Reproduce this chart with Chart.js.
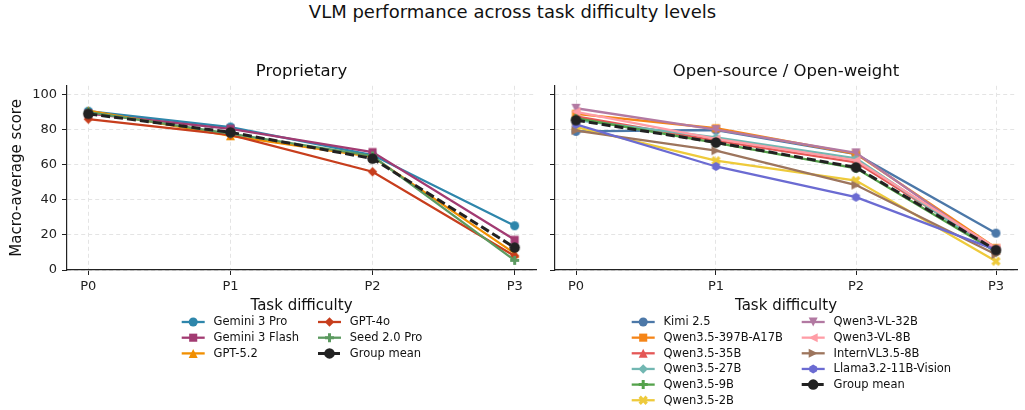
<!DOCTYPE html>
<html>
<head>
<meta charset="utf-8">
<script src="https://cdn.jsdelivr.net/npm/chart.js@4.4.1/dist/chart.umd.min.js"></script>
<style>
  html, body { margin: 0; padding: 0; background: #fff; }
  body { width: 1025px; height: 410px; position: relative; overflow: hidden; font-family: "DejaVu Sans", sans-serif; }
  #suptitle { position: absolute; left: 0; top: 1px; width: 1025px; text-align: center; font-size: 18px; color: #111; }
  #left { position: absolute; left: 0; top: 0; }
  #right { position: absolute; left: 545px; top: 0; }
</style>
</head>
<body>
<div id="suptitle">VLM performance across task difficulty levels</div>
<canvas id="left" width="545" height="410"></canvas>
<canvas id="right" width="480" height="410"></canvas>
<script>
// data
var difficulty = ["P0", "P1", "P2", "P3"];
var yTicks = [0, 20, 40, 60, 80, 100];

// proprietary
var propNames = ["Gemini 3 Pro", "Gemini 3 Flash", "GPT-5.2", "GPT-4o", "Seed 2.0 Pro"];
var propColors = ["#2E86AB", "#A23B72", "#F18F01", "#C73E1D", "#5C9A60"];
var propMarkers = ["o", "s", "^", "D", "P"];
var gemini3Pro = [90.5, 81.5, 65.5, 25.2];
var gemini3Flash = [89.2, 80.5, 67.2, 17.2];
var gpt52 = [90.8, 76.5, 64.5, 9.5];
var gpt4o = [86, 77, 56, 8];
var seed20Pro = [90, 77.8, 65, 5.5];
var propMean = [89, 78.5, 63.5, 12.8];

// open-source / open-weight
var openNames = ["Kimi 2.5", "Qwen3.5-397B-A17B", "Qwen3.5-35B", "Qwen3.5-27B", "Qwen3.5-9B", "Qwen3.5-2B",
    "Qwen3-VL-32B", "Qwen3-VL-8B", "InternVL3.5-8B", "Llama3.2-11B-Vision"];
var openColors = ["#4C78A8", "#F58518", "#E45756", "#72B7B2", "#54A24B", "#EECA3B",
    "#B279A2", "#FF9DA6", "#9D755D", "#6B6BD2"];
var openMarkers = ["o", "s", "^", "D", "P", "X", "v", "<", ">", "h"];
var kimi25 = [79, 79.8, 66, 21];
var qwen397b = [89, 80.8, 66.2, 12.5];
var qwen35b = [87.5, 73.8, 61.4, 11.5];
var qwen27b = [85.5, 75.6, 63.6, 10];
var qwen9b = [86.5, 72.5, 58, 10.5];
var qwen2b = [81.5, 62.3, 51, 5];
var qwenVl32b = [92.2, 80, 66.8, 11];
var qwenVl8b = [90.2, 74.7, 62.5, 12.5];
var internVl = [79.5, 68, 48.4, 8.8];
var llama32 = [83, 59, 41.5, 11.5];
var openMean = [85.4, 72.7, 58.5, 11.4];

var FONT = "DejaVu Sans";

function drawMarker(ctx, shape, cx, cy, s, color) {
    var r = s / 2;
    ctx.save();
    ctx.fillStyle = color;
    ctx.beginPath();
    if (shape === "o") {
        ctx.arc(cx, cy, r, 0, Math.PI * 2);
    } else if (shape === "s") {
        ctx.rect(cx - r * 0.9, cy - r * 0.9, r * 1.8, r * 1.8);
    } else if (shape === "D") {
        ctx.moveTo(cx, cy - r * 1.05);
        ctx.lineTo(cx + r * 1.05, cy);
        ctx.lineTo(cx, cy + r * 1.05);
        ctx.lineTo(cx - r * 1.05, cy);
    } else if (shape === "^" || shape === "v" || shape === "<" || shape === ">") {
        var ang = {"^": 0, ">": 90, "v": 180, "<": 270}[shape] * Math.PI / 180;
        var pts = [[0, -r], [r, r], [-r, r]];
        pts.forEach(function(p, i) {
            var x = cx + p[0] * Math.cos(ang) - p[1] * Math.sin(ang);
            var y = cy + p[0] * Math.sin(ang) + p[1] * Math.cos(ang);
            if (i === 0) ctx.moveTo(x, y); else ctx.lineTo(x, y);
        });
    } else if (shape === "P" || shape === "X") {
        var w = r / 3;
        var poly = [[-w, -r], [w, -r], [w, -w], [r, -w], [r, w], [w, w], [w, r], [-w, r], [-w, w], [-r, w], [-r, -w], [-w, -w]];
        var a = shape === "X" ? Math.PI / 4 : 0;
        var k = shape === "X" ? 1.1 : 1;
        poly.forEach(function(p, i) {
            var x = cx + k * (p[0] * Math.cos(a) - p[1] * Math.sin(a));
            var y = cy + k * (p[0] * Math.sin(a) + p[1] * Math.cos(a));
            if (i === 0) ctx.moveTo(x, y); else ctx.lineTo(x, y);
        });
    } else if (shape === "h") {
        for (var i = 0; i < 6; i++) {
            var t = Math.PI / 2 + i * Math.PI / 3;
            var hx = cx + r * Math.cos(t), hy = cy - r * Math.sin(t);
            if (i === 0) ctx.moveTo(hx, hy); else ctx.lineTo(hx, hy);
        }
    }
    ctx.closePath();
    ctx.fill();
    ctx.restore();
}

function markerImage(shape, color, s) {
    var c = document.createElement("canvas");
    c.width = Math.ceil(s + 4);
    c.height = Math.ceil(s + 4);
    drawMarker(c.getContext("2d"), shape, c.width / 2, c.height / 2, s, color);
    return c;
}

// legend in columns, like matplotlib ncol=2
var colLegend = {
    id: "colLegend",
    afterDraw: function(chart, args, opts) {
        var ctx = chart.ctx;
        var sets = chart.data.datasets;
        var rows = Math.ceil(sets.length / 2);
        ctx.save();
        sets.forEach(function(ds, i) {
            var col = Math.floor(i / rows), row = i % rows;
            var x = opts.x + col * opts.colW;
            var y = opts.y + row * opts.rowH;
            ctx.strokeStyle = ds.borderColor;
            ctx.lineWidth = ds.borderWidth;
            ctx.setLineDash(ds.borderDash || []);
            ctx.beginPath();
            ctx.moveTo(x, y);
            ctx.lineTo(x + 23, y);
            ctx.stroke();
            ctx.setLineDash([]);
            drawMarker(ctx, ds.marker, x + 11.5, y, ds.markerSize, ds.borderColor);
            ctx.fillStyle = "#111";
            ctx.font = "11.5px '" + FONT + "'";
            ctx.textBaseline = "middle";
            ctx.textAlign = "left";
            ctx.fillText(ds.label, x + 31.8, y + 0.5);
        });
        ctx.restore();
    }
};

function buildSets(names, colors, markers, series, mean) {
    var n = names.length;
    var sets = names.map(function(name, i) {
        return {
            label: name,
            data: series[i].map(function(v, k) { return {x: k, y: v}; }),
            borderColor: colors[i],
            backgroundColor: colors[i],
            borderWidth: 2.3,
            marker: markers[i],
            markerSize: 9,
            pointStyle: markerImage(markers[i], colors[i], 9),
            pointRadius: 4.5,
            pointHoverRadius: 4.5,
            order: n - i + 1
        };
    });
    sets.push({
        label: "Group mean",
        data: mean.map(function(v, k) { return {x: k, y: v}; }),
        borderColor: "#222222",
        backgroundColor: "#222222",
        borderWidth: 3,
        borderDash: [9, 4],
        marker: "o",
        markerSize: 10.5,
        pointStyle: markerImage("o", "#222222", 10.5),
        pointRadius: 5,
        pointHoverRadius: 5,
        order: 0
    });
    return sets;
}

function makeChart(id, title, datasets, showY, yWidth, padRight, legendPos) {
    var gridOpts = { color: "#e4e4e4", lineWidth: 1, tickColor: "#222", tickLength: 5, tickWidth: 1 };
    var borderOpts = { color: "#222", width: 1.2, dash: [4, 3] };
    return new Chart(document.getElementById(id).getContext("2d"), {
        type: "line",
        data: { datasets: datasets },
        options: {
            responsive: false,
            animation: false,
            events: [],
            layout: { padding: { left: 0, right: padRight, top: 0, bottom: 95 } },
            elements: { line: { tension: 0, fill: false } },
            scales: {
                x: {
                    type: "linear",
                    min: -0.15,
                    max: 3.15,
                    afterBuildTicks: function(s) { s.ticks = difficulty.map(function(_, i) { return {value: i}; }); },
                    afterFit: function(s) { s.height = 45; },
                    ticks: {
                        callback: function(v) { return difficulty[v]; },
                        font: { family: FONT, size: 13 }, color: "#222", padding: 4,
                        maxRotation: 0, autoSkip: false
                    },
                    grid: gridOpts,
                    border: borderOpts,
                    title: { display: true, text: "Task difficulty", font: { family: FONT, size: 15 }, color: "#111", padding: { top: 2, bottom: 0 } }
                },
                y: {
                    min: 0,
                    max: 105,
                    afterBuildTicks: function(s) { s.ticks = yTicks.map(function(v) { return {value: v}; }); },
                    afterFit: function(s) { s.width = yWidth; },
                    ticks: { display: showY, font: { family: FONT, size: 13 }, color: "#222", padding: 5 },
                    grid: gridOpts,
                    border: borderOpts,
                    title: { display: showY, text: "Macro-average score", font: { family: FONT, size: 15 }, color: "#111", padding: { top: 8, bottom: 4 } }
                }
            },
            plugins: {
                legend: { display: false },
                tooltip: { enabled: false },
                title: {
                    display: true, text: title, fullSize: false,
                    font: { family: FONT, size: 16.5, weight: "normal" }, color: "#111",
                    padding: { top: 62, bottom: 4 }
                },
                colLegend: legendPos
            }
        },
        plugins: [colLegend]
    });
}

document.addEventListener("DOMContentLoaded", function() {
    var propSets = buildSets(propNames, propColors, propMarkers,
        [gemini3Pro, gemini3Flash, gpt52, gpt4o, seed20Pro], propMean);
    var openSets = buildSets(openNames, openColors, openMarkers,
        [kimi25, qwen397b, qwen35b, qwen27b, qwen9b, qwen2b, qwenVl32b, qwenVl8b, internVl, llama32], openMean);

    makeChart("left", "Proprietary", propSets, true, 67, 9, { x: 181.7, colW: 136.3, y: 322, rowH: 15.7 });
    makeChart("right", "Open-source / Open-weight", openSets, false, 10, 5, { x: 86.7, colW: 170, y: 322, rowH: 15.65 });
});
</script>
</body>
</html>
